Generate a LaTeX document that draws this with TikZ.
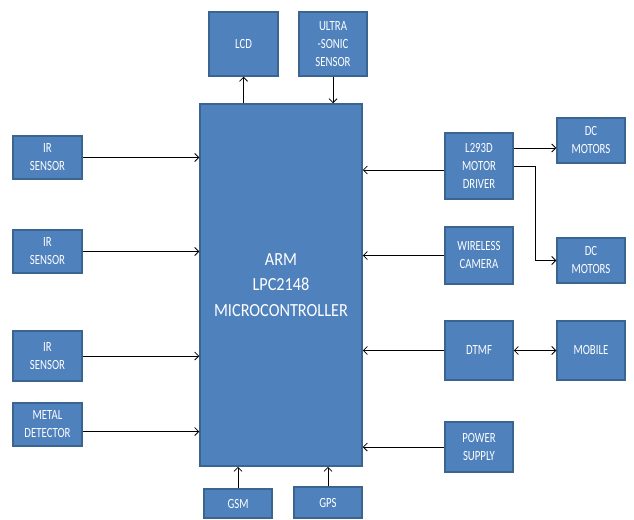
\documentclass[tikz,border=0pt]{standalone}
\usepackage{fontspec}
\setmainfont{Carlito}[FakeStretch=0.77]
\newfontfamily\bigfont{Carlito}[FakeStretch=0.88]
\usetikzlibrary{arrows.meta}
\definecolor{boxfill}{HTML}{4F81BD}
\definecolor{boxline}{HTML}{3A6591}
\begin{document}
\begin{tikzpicture}[x=1pt,y=-1pt,
  box/.style={draw=boxline,line width=1.5pt,fill=boxfill,text=white,inner sep=0pt,align=center,
    font=\fontsize{14}{18}\selectfont},
  arr/.style={draw=black,line width=0.8pt,-{Straight Barb[length=4pt,width=8pt]}},
  darr/.style={draw=black,line width=0.8pt,{Straight Barb[length=4pt,width=8pt]}-{Straight Barb[length=4pt,width=8pt]}}]
\useasboundingbox (0,0) rectangle (634,519);
\node[box,minimum width=162pt,minimum height=362pt,font=\bigfont\fontsize{18.5}{25.5}\selectfont] (main) at (281,285) {ARM\\LPC2148\\MICROCONTROLLER};
\node[box,minimum width=69pt,minimum height=64pt] (lcd) at (243.5,44) {LCD};
\node[box,minimum width=68pt,minimum height=64pt] (ultra) at (333,44) {ULTRA\\-SONIC\\SENSOR};
\node[box,minimum width=69pt,minimum height=43pt] (ir1) at (47.5,157.5) {IR\\SENSOR};
\node[box,minimum width=69pt,minimum height=43pt] (ir2) at (47.5,251.5) {IR\\SENSOR};
\node[box,minimum width=69pt,minimum height=50pt] (ir3) at (47.5,356) {IR\\SENSOR};
\node[box,minimum width=69pt,minimum height=43pt] (metal) at (47.5,424.5) {METAL\\DETECTOR};
\node[box,minimum width=68pt,minimum height=66pt] (l293d) at (479,166) {L293D\\MOTOR\\DRIVER};
\node[box,minimum width=68pt,minimum height=57pt] (wireless) at (479,255.5) {WIRELESS\\CAMERA};
\node[box,minimum width=68pt,minimum height=59pt] (dtmf) at (479,350.5) {DTMF};
\node[box,minimum width=68pt,minimum height=50pt] (power) at (479,447) {POWER\\SUPPLY};
\node[box,minimum width=68pt,minimum height=45pt] (dc1) at (591,140.5) {DC\\MOTORS};
\node[box,minimum width=68pt,minimum height=45pt] (dc2) at (591,260.5) {DC\\MOTORS};
\node[box,minimum width=68pt,minimum height=59pt] (mobile) at (591,350.5) {MOBILE};
\node[box,minimum width=68pt,minimum height=29pt] (gsm) at (238,503.5) {GSM};
\node[box,minimum width=68pt,minimum height=31pt] (gps) at (328,502.5) {GPS};
% top
\draw[arr] (lcd.south |- main.north) -- (lcd.south);
\draw[arr] (ultra.south) -- (ultra.south |- main.north);
% left
\draw[arr] (ir1.east) -- (ir1.east -| main.west);
\draw[arr] (ir2.east) -- (ir2.east -| main.west);
\draw[arr] (ir3.east) -- (ir3.east -| main.west);
\coordinate (m1) at ([yshift=-7pt]metal.east);
\draw[arr] (m1) -- (m1 -| main.west);
% right
\coordinate (l1) at ([yshift=-4pt]l293d.west);
\draw[arr] (l1) -- (l1 -| main.east);
\draw[arr] (wireless.west) -- (wireless.west -| main.east);
\draw[arr] (dtmf.west) -- (dtmf.west -| main.east);
\draw[arr] (power.west) -- (power.west -| main.east);
\coordinate (l2) at ([yshift=18pt]l293d.east);
\draw[arr] (l2) -- (l2 -| dc1.west);
\draw[arr] (l293d.east) -- ++(22,0) |- (dc2.west);
\draw[darr] (dtmf.east) -- (mobile.west);
% bottom
\draw[arr] (gsm.north) -- (gsm.north |- main.south);
\draw[arr] (gps.north) -- (gps.north |- main.south);
\end{tikzpicture}
\end{document}
